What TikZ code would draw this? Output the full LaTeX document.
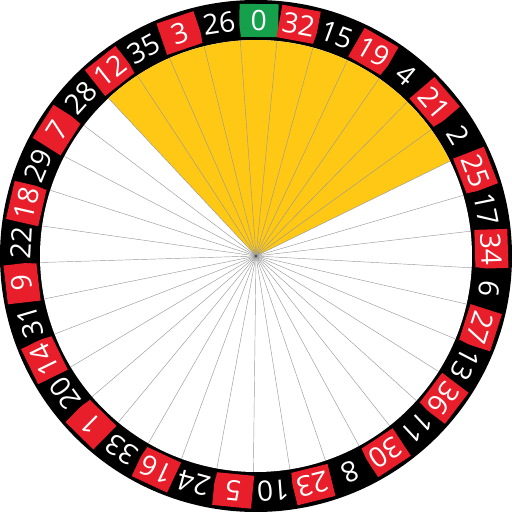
\documentclass[tikz,border=0pt]{standalone}
\usepackage{fontspec}
\setmainfont{Open Sans}
\definecolor{rred}{RGB}{232,30,42}
\definecolor{rgreen}{RGB}{22,160,75}
\definecolor{ryellow}{RGB}{255,200,20}
\begin{document}
\begin{tikzpicture}[x=0.02cm,y=0.02cm,
  spoke/.style={draw=black!40, line width=0.25pt},
  pocketlabel/.style={text=white, font=\fontsize{16}{16}\selectfont, inner sep=0pt}]
\useasboundingbox (0,0) rectangle (512,512);
\def\off{-0.7}
\begin{scope}[shift={(256,256)}]
  \fill[black] (0,0) circle (256);
  \fill[white] (0,0) circle (216);
  \fill[ryellow] (0,0) -- ({90+4.5*360/37+\off}:216)
     arc[start angle={90+4.5*360/37+\off}, end angle={90-6.5*360/37+\off}, radius=216] -- cycle;
  \foreach \i in {0,...,36} \draw[spoke] (0,0) -- ({90+(\i+0.5)*360/37+\off}:216);
  \fill[black!70] (0,0) circle (1.5);
  \foreach \n/\c [count=\i from 0] in {0/rgreen,32/rred,15/black,19/rred,4/black,21/rred,2/black,25/rred,17/black,34/rred,6/black,27/rred,13/black,36/rred,11/black,30/rred,8/black,23/rred,10/black,5/rred,24/black,16/rred,33/black,1/rred,20/black,14/rred,31/black,9/rred,22/black,18/rred,29/black,7/rred,28/black,12/rred,35/black,3/rred,26/black} {
    \pgfmathsetmacro\ang{90-\i*360/37+\off}
    \fill[\c, rotate=\ang-90] (-19.5,219) rectangle (19.5,252);
    \node[pocketlabel, rotate=\ang-90] (p\n) at (\ang:235.5) {\n};
  }
\end{scope}
\end{tikzpicture}
\end{document}
